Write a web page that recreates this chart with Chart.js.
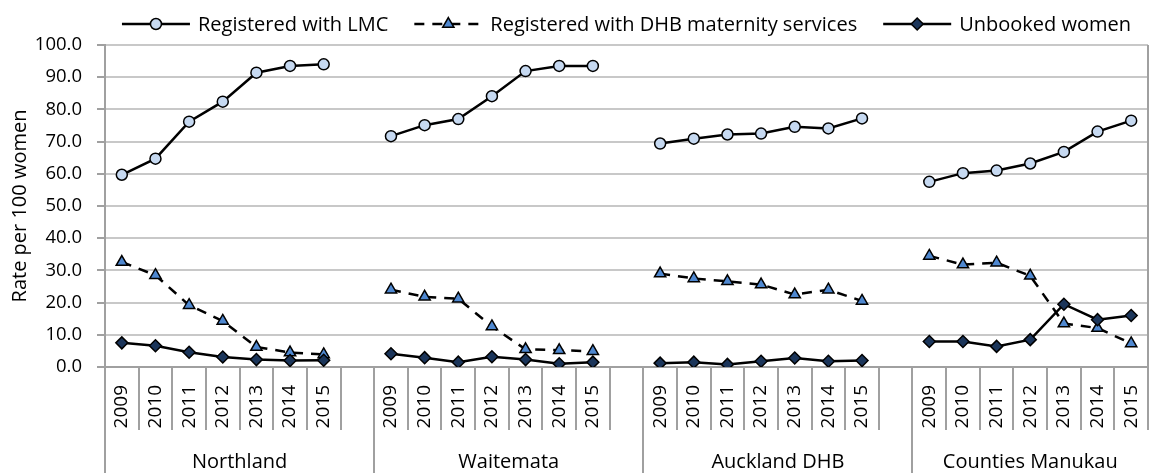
<!DOCTYPE html>
<html><head><meta charset="utf-8">
<script src="https://cdn.jsdelivr.net/npm/chart.js@4.4.0/dist/chart.umd.min.js"></script>
<style>body{margin:0;background:#fff}#wrap{width:1156px;height:473px;position:relative}</style>
</head><body><div id="wrap"><canvas id="c"></canvas></div>
<script>
const groups=["Northland","Waitemata","Auckland DHB","Counties Manukau"];
const years=["2009","2010","2011","2012","2013","2014","2015"];
const lmc=[59.7,64.7,76.2,82.4,91.4,93.5,94.0, 71.7,75.1,77.0,84.1,91.9,93.5,93.5, 69.4,70.9,72.2,72.5,74.6,74.1,77.2, 57.5,60.2,61.0,63.2,66.8,73.1,76.5];
const dhb=[32.6,28.5,19.2,14.3,6.2,4.5,3.9, 24.0,21.8,21.2,12.6,5.5,5.2,4.9, 29.0,27.5,26.6,25.6,22.5,24.0,20.5, 34.5,31.8,32.4,28.3,13.5,12.1,7.3];
const unbooked=[7.5,6.6,4.6,3.1,2.3,2.0,2.1, 4.1,2.9,1.5,3.2,2.3,1.0,1.5, 1.2,1.5,0.8,1.8,2.8,1.8,2.0, 7.9,7.9,6.4,8.5,19.5,14.7,16.0];
const seriesNames=["Registered with LMC","Registered with DHB maternity services","Unbooked women"];

const FONT="'Open Sans', sans-serif";
const FS=20;
const AXIS="#a0a0a0", GRID="#c8c8c8";

// one blank category after each group except the last
const labels=[], groupStart=[];
function spread(vals){
  const out=[];
  groups.forEach((g,gi)=>{
    years.forEach((y,yi)=>out.push(vals[gi*years.length+yi]));
    if(gi<groups.length-1) out.push(null);
  });
  return out;
}
groups.forEach((g,gi)=>{
  groupStart.push(labels.length);
  years.forEach(y=>labels.push(y));
  if(gi<groups.length-1) labels.push("");
});

Chart.defaults.font.family=FONT;
Chart.defaults.font.size=FS;
Chart.defaults.color="#000";

function boundary(x,i){
  const n=labels.length;
  if(i<=0) return x.left;
  if(i>=n) return x.right;
  return (x.getPixelForValue(i-1)+x.getPixelForValue(i))/2;
}

const xAxisPlugin={
  id:"xAxisPlugin",
  afterDraw(chart){
    const {ctx,chartArea:a,scales:{x}}=chart;
    const n=labels.length;
    ctx.save();
    ctx.strokeStyle=AXIS; ctx.lineWidth=2;
    for(let i=0;i<=n;i++){
      const px=Math.round(boundary(x,i));
      const isSep=groupStart.includes(i);
      ctx.beginPath();
      ctx.moveTo(px,i===n?a.top:a.bottom);
      ctx.lineTo(px,isSep?chart.height:a.bottom+63);
      ctx.stroke();
    }
    ctx.fillStyle="#000"; ctx.font=FS+"px "+FONT;
    ctx.textAlign="center"; ctx.textBaseline="middle";
    groups.forEach((g,gi)=>{
      const s=groupStart[gi], e=gi<groups.length-1?groupStart[gi+1]:n;
      ctx.fillText(g,(boundary(x,s)+boundary(x,e))/2,a.bottom+95);
    });
    ctx.restore();
  }
};

const legendPlugin={
  id:"legendPlugin",
  afterDraw(chart){
    const {ctx,chartArea:a}=chart;
    ctx.save();
    ctx.font=FS+"px "+FONT;
    const sw=68, gapT=8, gapI=26;
    const widths=chart.data.datasets.map(d=>ctx.measureText(d.label).width);
    const total=widths.reduce((s,w)=>s+sw+gapT+w,0)+gapI*(widths.length-1);
    let cx=(a.left+a.right)/2-total/2;
    const y=24;
    chart.data.datasets.forEach((d,i)=>{
      ctx.strokeStyle=d.borderColor; ctx.lineWidth=d.borderWidth;
      ctx.setLineDash(d.borderDash||[]);
      ctx.beginPath(); ctx.moveTo(cx,y); ctx.lineTo(cx+sw,y); ctx.stroke();
      ctx.setLineDash([]);
      ctx.fillStyle=d.pointBackgroundColor; ctx.strokeStyle=d.pointBorderColor; ctx.lineWidth=d.pointBorderWidth;
      Chart.helpers.drawPoint(ctx,{pointStyle:d.pointStyle,radius:d.pointRadius,rotation:0,borderWidth:d.pointBorderWidth},cx+sw/2,y);
      ctx.fillStyle="#000"; ctx.textAlign="left"; ctx.textBaseline="middle";
      ctx.fillText(d.label,cx+sw+gapT,y+1);
      cx+=sw+gapT+widths[i]+gapI;
    });
    ctx.restore();
  }
};

new Chart(document.getElementById("c"),{
  type:"line",
  data:{
    labels:labels,
    datasets:[
      {label:seriesNames[0],data:spread(lmc),borderColor:"#000",borderWidth:2.5,pointStyle:"circle",pointRadius:5.5,
       pointBackgroundColor:"#c6d9f1",pointBorderColor:"#000",pointBorderWidth:1.5,order:2,spanGaps:false},
      {label:seriesNames[1],data:spread(dhb),borderColor:"#000",borderWidth:2.5,borderDash:[10,8],pointStyle:"triangle",pointRadius:6.5,
       pointBackgroundColor:"#4f88d0",pointBorderColor:"#000",pointBorderWidth:1.5,order:1,spanGaps:false},
      {label:seriesNames[2],data:spread(unbooked),borderColor:"#000",borderWidth:2.5,pointStyle:"rectRot",pointRadius:6,
       pointBackgroundColor:"#1b355a",pointBorderColor:"#000",pointBorderWidth:1.5,order:0,spanGaps:false}
    ]
  },
  options:{
    responsive:true,maintainAspectRatio:false,animation:false,
    layout:{padding:{top:45,right:2,left:0,bottom:0}},
    plugins:{legend:{display:false},tooltip:{enabled:false}},
    elements:{line:{tension:0}},
    scales:{
      x:{
        type:"category",
        offset:true,
        // transparent tick marks only push the labels down; the visible lines come from xAxisPlugin
        grid:{display:true,drawOnChartArea:false,drawTicks:true,tickLength:18,color:"rgba(0,0,0,0)",offset:true},
        border:{display:true,color:AXIS,width:2},
        ticks:{autoSkip:false,maxRotation:90,minRotation:90,padding:0,font:{size:19}},
        afterFit(s){s.height=106;}
      },
      y:{
        min:0,max:100,
        grid:{color:GRID,lineWidth:2,tickLength:8,tickColor:AXIS},
        border:{display:true,color:AXIS,width:2},
        ticks:{stepSize:10,padding:15,callback:v=>v.toFixed(1),font:{size:18.5}},
        title:{display:true,text:"Rate per 100 women",font:{size:20},padding:{top:8,bottom:0}},
        afterFit(s){s.width=105;}
      }
    }
  },
  plugins:[xAxisPlugin,legendPlugin]
});
</script>
</body></html>
